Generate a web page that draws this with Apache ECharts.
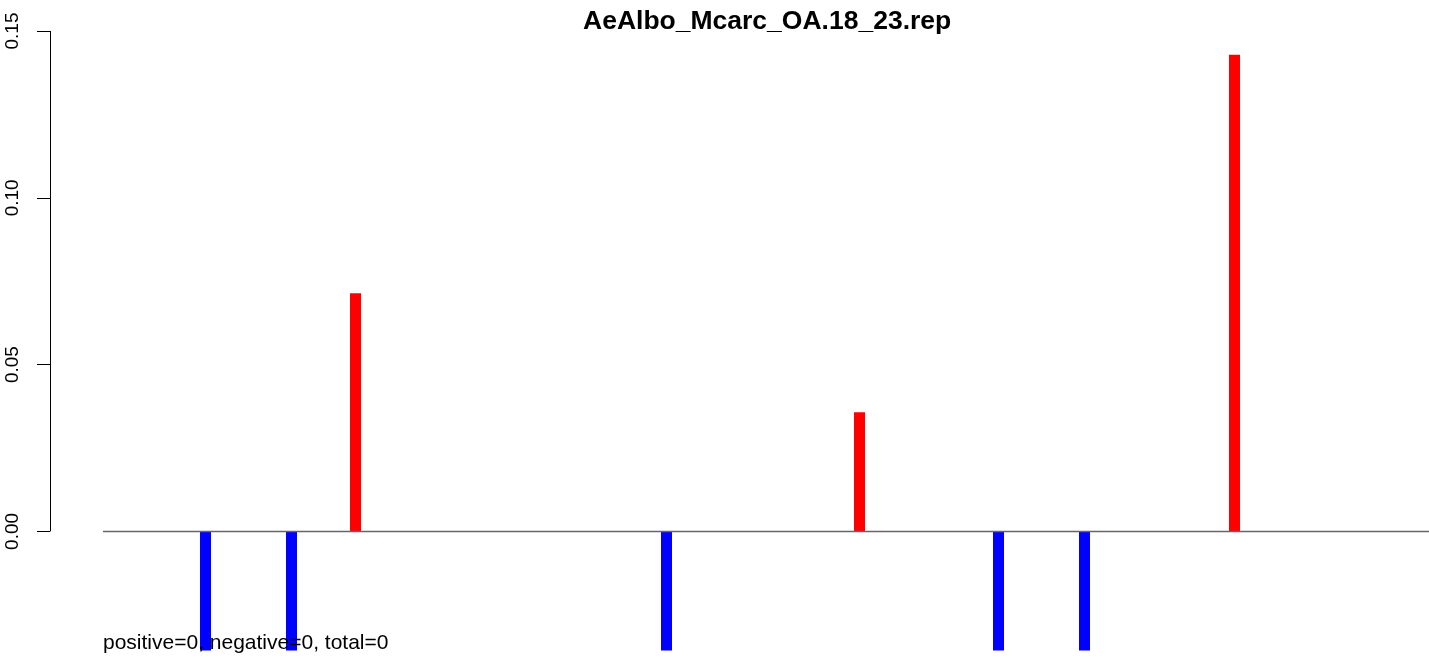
<!DOCTYPE html>
<html>
<head>
<meta charset="utf-8">
<script src="https://cdn.jsdelivr.net/npm/echarts@6/dist/echarts.min.js"></script>
<style>
html,body{margin:0;padding:0;background:#fff;}
#chart{width:1429px;height:657px;}
</style>
</head>
<body>
<div id="chart"></div>
<script>
// Data
const chartTitle = 'AeAlbo_Mcarc_OA.18_23.rep';
const footNote = 'positive=0, negative=0, total=0';
const positions = [102.5, 188.5, 252.5, 563.5, 756.5, 895.5, 981.5, 1131.5];
const values = [-0.0357, -0.0357, 0.0714, -0.0357, 0.0357, -0.0357, -0.0357, 0.1429];
const yTicks = [0, 0.05, 0.1, 0.15];
const xMin = -53, xMax = 1326;
const yMin = -0.0357, yMax = 0.15;

const fontFam = '"Liberation Sans", Arial, Helvetica, sans-serif';
const chart = echarts.init(document.getElementById('chart'), null, {renderer: 'canvas'});

const barData = positions.map((p, i) => [p, values[i]]);

chart.setOption({
  animation: false,
  backgroundColor: '#ffffff',
  grid: {left: 50, right: 0, top: 31, bottom: 6.5, containLabel: false, outerBoundsMode: 'none'},
  xAxis: {
    type: 'value', min: xMin, max: xMax, show: false
  },
  yAxis: {
    type: 'value', min: yMin, max: yMax,
    axisLine: {show: false, onZero: false},
    splitLine: {show: false},
    axisTick: {show: true, length: 13, customValues: yTicks, lineStyle: {color: '#000', width: 1}},
    axisLabel: {
      show: true, rotate: 90, margin: 28, fontSize: 19, color: '#000',
      fontFamily: fontFam,
      customValues: yTicks,
      formatter: v => v.toFixed(2)
    }
  },
  series: [{
    type: 'bar',
    data: barData,
    barWidth: 11,
    clip: false,
    z: 2,
    itemStyle: {
      color: p => (p.value[1] >= 0 ? '#ff0000' : '#0000ff')
    },
    markLine: {
      silent: true,
      symbol: ['none', 'none'],
      label: {show: false},
      animation: false,
      data: [
        [{coord: [0, 0], lineStyle: {color: '#666666', width: 1.3, type: 'solid'}}, {coord: [xMax, 0]}],
        [{coord: [xMin, 0], lineStyle: {color: '#000000', width: 1, type: 'solid'}}, {coord: [xMin, yMax]}]
      ]
    }
  }],
  graphic: {
    zlevel: 1,
    z: 100,
    elements: [
      {type: 'text', z: 100, left: 583, top: 8, style: {text: chartTitle, font: 'bold 26.5px ' + fontFam, fill: '#000'}},
      {type: 'text', z: 100, left: 103, top: 633, style: {text: footNote, font: '21px ' + fontFam, fill: '#000'}}
    ]
  }
});
</script>
</body>
</html>
